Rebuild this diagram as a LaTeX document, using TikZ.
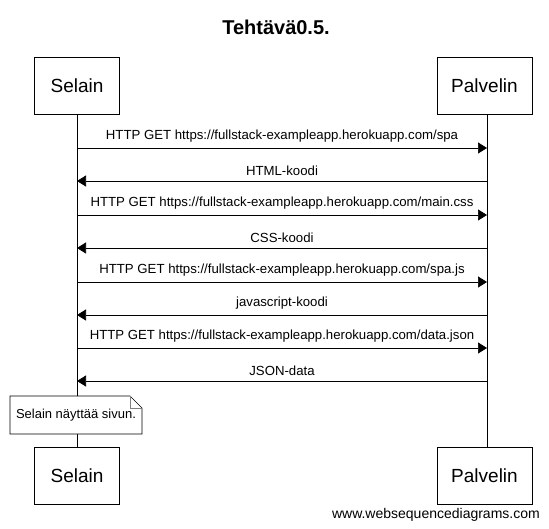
\documentclass[tikz,border=0pt]{standalone}
\usepackage{fontspec}
\setmainfont{Liberation Sans}
\usetikzlibrary{arrows.meta}

\newcommand{\selx}{77}
\newcommand{\palx}{487}

\tikzset{
  actor/.style={draw, thick, minimum height=57pt, inner sep=0pt, font=\fontsize{19}{22}\selectfont},
  msg/.style={-{Triangle[length=9pt,width=11pt]}, semithick},
  msglabel/.style={font=\fontsize{13.2}{15}\selectfont, inner sep=0pt},
  lifeline/.style={semithick},
}

\begin{document}
\begin{tikzpicture}[x=1pt, y=-1pt]
\useasboundingbox (0,0) rectangle (549,528);

% title
\node[font=\bfseries\fontsize{20}{24}\selectfont] (title) at (276,27) {Tehtävä0.5.};

%% actors
\node[actor, minimum width=85pt] (selTop) at (\selx,86) {Selain};
\node[actor, minimum width=95pt] (palTop) at (484.5,86) {Palvelin};
\node[actor, minimum width=85pt] (selBot) at (\selx,476) {Selain};
\node[actor, minimum width=95pt] (palBot) at (484.5,476) {Palvelin};

%% lifelines
\draw[lifeline] (selTop.south -| \selx,0) -- (selBot.north -| \selx,0);
\draw[lifeline] (palTop.south -| \palx,0) -- (palBot.north -| \palx,0);

%% messages
\foreach \y/\dir/\txt [count=\k] in {
  148/r/{HTTP GET https://fullstack-exampleapp.herokuapp.com/spa},
  181/l/{HTML-koodi},
  215/r/{HTTP GET https://fullstack-exampleapp.herokuapp.com/main.css},
  248/l/{CSS-koodi},
  282/r/{HTTP GET https://fullstack-exampleapp.herokuapp.com/spa.js},
  315/l/{javascript-koodi},
  348/r/{HTTP GET https://fullstack-exampleapp.herokuapp.com/data.json},
  381/l/{JSON-data}}{
  \coordinate (s\k) at (\selx,\y);
  \coordinate (p\k) at (\palx,\y);
  \if\dir r
    \draw[msg] (s\k) -- (p\k) node[msglabel, midway, above=5pt] (m\k) {\txt};
  \else
    \draw[msg] (p\k) -- (s\k) node[msglabel, midway, above=5pt] (m\k) {\txt};
  \fi
}

%% note
\coordinate (nA) at (10,396);
\coordinate (nB) at (142,434);
\fill[white] (nA) -- (130,396) -- (142,408) -- (nB) -- (10,434) -- cycle;
\draw[semithick] (nA) -- (130,396) -- (142,408) -- (nB) -- (10,434) -- cycle;
\draw[semithick, gray] (130,396) -- (130,408) -- (142,408);
\node[msglabel, font=\fontsize{13}{15}\selectfont] (note) at (76,415) {Selain näyttää sivun.};

% footer
\node[font=\fontsize{14}{16}\selectfont, anchor=east, inner sep=0pt] (footer) at (540,515) {www.websequencediagrams.com};
\end{tikzpicture}
\end{document}
